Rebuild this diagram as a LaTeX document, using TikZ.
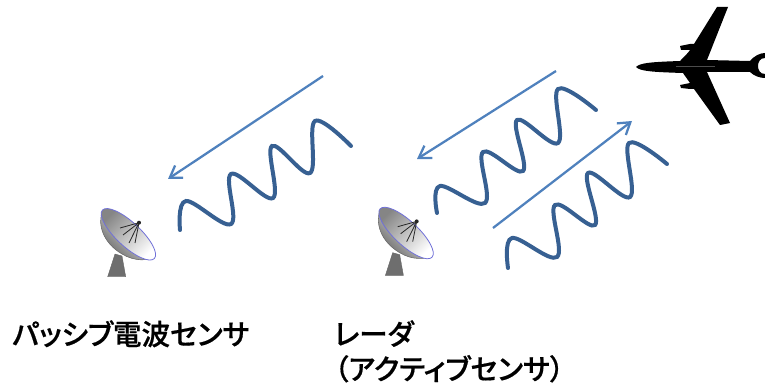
\documentclass[tikz,border=0pt]{standalone}
\usepackage{fontspec}
\newfontfamily\cjk{Noto Sans CJK JP Medium}[RawFeature=+palt,FakeBold=0.5]
\usetikzlibrary{arrows.meta,positioning}
\definecolor{ink}{HTML}{000000}
\definecolor{beam}{HTML}{4F81BD}
\definecolor{wavec}{HTML}{376092}
\definecolor{rim}{HTML}{7070D8}
\definecolor{steel}{HTML}{6E6E6E}
\tikzset{
  flow/.style={-{Straight Barb[length=8.5pt,width=11pt]},line width=1.7pt,draw=beam},
  wave/.style={line width=3pt,draw=wavec,line cap=round,smooth,tension=0.62},
  caption/.style={font=\cjk\fontsize{21.4}{26.25}\selectfont,align=left,inner sep=0pt,anchor=north west,text=ink},
  strut/.style={line width=0.6pt,draw=black!85},
  dish/.pic={
    \fill[steel,draw=black!60,line width=0.3pt] (107.7,276.7) -- (115,254) -- (122,256) -- (125.7,276.7) -- cycle;
    \shade[top color=white,bottom color=black!62,shading angle=-45,draw=black!60,line width=0.4pt]
      (102.7,210.7) .. controls (97,224) and (103,243) .. (122,254) .. controls (135,262) and (148,260) .. (154,258) -- cycle;
    \shade[rotate around={-43:(128.4,234.3)},top color=black!48,bottom color=white,shading angle=45,draw=rim,line width=0.6pt]
      (128.4,234.3) ellipse [x radius=35.5,y radius=12];
    \draw[strut] (139,222.7) -- (120,228);
    \draw[strut] (139,222.7) -- (123,235);
    \draw[strut] (139,222.7) -- (129,243);
    \draw[strut] (139,222.7) -- (135,243);
    \fill[black!85] (139,222.7) circle (2);
  },
}
\begin{document}
\begin{tikzpicture}[x=0.75pt,y=-0.75pt]
  \useasboundingbox (0,0) rectangle (765,385);
  \pic at (0,0) {dish};
  \pic at (277.7,-1.3) {dish};
  \coordinate (passivefrom) at (323,76);
  \coordinate (passiveto) at (168,179);
  \coordinate (radarfrom) at (556,71);
  \coordinate (radarto) at (417,159);
  \coordinate (echofrom) at (493,228);
  \coordinate (echoto) at (632,121);
  \draw[flow] (passivefrom) -- (passiveto);
  \draw[flow] (radarfrom) -- (radarto);
  \draw[flow] (echofrom) -- (echoto);
  \draw[wave] plot coordinates {(180,230) (186,201) (231,224) (231,174) (273,198) (272,146) (310,173) (315,121) (351,146)};
  \draw[wave] plot coordinates {(437,213) (440,186) (485,203) (483,152) (523,171) (517,120) (558,143) (558,89) (596,110)};
  \draw[wave] plot coordinates {(508,268) (512,238) (557,257) (555,205) (595,225) (588,173) (630,197) (629,143) (667,164)};
  \fill[ink] (636,67) .. controls (640,63) and (650,62) .. (680,61)
    .. controls (685,56) and (688,53) .. (690,50) -- (681,50) -- (680,46) -- (690,44) -- (694,44)
    -- (717,7) -- (728,7) -- (707,60) -- (750,61)
    .. controls (754,56) and (760,53) .. (765,53) -- (765,58)
    .. controls (760,58) and (758,62) .. (758,66) .. controls (758,70) and (760,74) .. (765,74)
    -- (765,78) .. controls (760,78) and (754,76) .. (750,72) -- (707,72) -- (730,123) -- (720,125)
    -- (694,89) -- (690,89) -- (681,88) -- (680,85) -- (690,83) .. controls (688,80) and (685,76) .. (683,73)
    .. controls (650,72) and (640,71) .. (636,67) -- cycle;
  \draw[black!70,line width=0.6pt] (676,66.5) -- (715,66.5);
  \node[caption] (passive) at (12,320) {パッシブ電波センサ};
  \node[caption] (radar) at (334,320) {レーダ\\（アクティブセンサ）};
\end{tikzpicture}
\end{document}
